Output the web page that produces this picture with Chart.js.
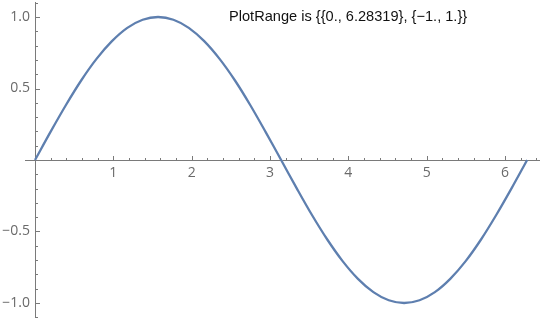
<!DOCTYPE html>
<html>
<head>
<meta charset="utf-8">
<script src="https://cdn.jsdelivr.net/npm/chart.js@4/dist/chart.umd.min.js"></script>
<style>
  html, body { margin: 0; padding: 0; background: #fff; }
  #c { display: block; }
</style>
</head>
<body>
<canvas id="c" width="540" height="320"></canvas>
<script>
// Curve samples
const xValues = [0, 0.196, 0.393, 0.589, 0.785, 0.982, 1.178, 1.374, 1.571, 1.767, 1.963, 2.160, 2.356, 2.553, 2.749, 2.945,
                 3.142, 3.338, 3.534, 3.731, 3.927, 4.123, 4.320, 4.516, 4.712, 4.909, 5.105, 5.301, 5.498, 5.694, 5.890, 6.087, 6.283];
const yValues = [0, 0.195, 0.383, 0.556, 0.707, 0.831, 0.924, 0.981, 1.0, 0.981, 0.924, 0.831, 0.707, 0.556, 0.383, 0.195,
                 0, -0.195, -0.383, -0.556, -0.707, -0.831, -0.924, -0.981, -1.0, -0.981, -0.924, -0.831, -0.707, -0.556, -0.383, -0.195, 0];

// Axis ticks
const xMajorTicks = [1, 2, 3, 4, 5, 6];
const xMajorLabels = ['1', '2', '3', '4', '5', '6'];
const xMinorTicks = [0.2, 0.4, 0.6, 0.8, 1.2, 1.4, 1.6, 1.8, 2.2, 2.4, 2.6, 2.8, 3.2, 3.4, 3.6, 3.8,
                     4.2, 4.4, 4.6, 4.8, 5.2, 5.4, 5.6, 5.8, 6.2, 6.4];
const yMajorTicks = [-1, -0.5, 0.5, 1];
const yMajorLabels = ['\u22121.0', '\u22120.5', '0.5', '1.0'];
const yMinorTicks = [-1.1, -0.9, -0.8, -0.7, -0.6, -0.4, -0.3, -0.2, -0.1, 0.1, 0.2, 0.3, 0.4, 0.6, 0.7, 0.8, 0.9, 1.1];

const titleText = 'PlotRange is {{0., 6.28319}, {\u22121., 1.}}';

const points = xValues.map((x, i) => ({ x: x, y: yValues[i] }));

const axesPlugin = {
  id: 'mmaAxes',
  beforeDatasetsDraw(chart) {
    const ctx = chart.ctx;
    const xs = chart.scales.x, ys = chart.scales.y;
    const area = chart.chartArea;
    const x0 = xs.getPixelForValue(0), y0 = ys.getPixelForValue(0);
    ctx.save();
    ctx.strokeStyle = '#7a7a7a';
    ctx.lineWidth = 1;
    // axis lines
    ctx.beginPath();
    ctx.moveTo(area.left, Math.round(y0) + 0.5);
    ctx.lineTo(area.right, Math.round(y0) + 0.5);
    ctx.moveTo(Math.round(x0) + 0.5, area.top);
    ctx.lineTo(Math.round(x0) + 0.5, area.bottom);
    // x ticks (pointing up)
    const yy = Math.round(y0) + 0.5;
    xMajorTicks.forEach(v => { const p = Math.round(xs.getPixelForValue(v)) + 0.5; ctx.moveTo(p, yy); ctx.lineTo(p, yy - 4.5); });
    xMinorTicks.forEach(v => { const p = Math.round(xs.getPixelForValue(v)) + 0.5; ctx.moveTo(p, yy); ctx.lineTo(p, yy - 2.5); });
    // y ticks (pointing right)
    const xx = Math.round(x0) + 0.5;
    yMajorTicks.forEach(v => { const p = Math.round(ys.getPixelForValue(v)) + 0.5; ctx.moveTo(xx, p); ctx.lineTo(xx + 4.5, p); });
    yMinorTicks.forEach(v => { const p = Math.round(ys.getPixelForValue(v)) + 0.5; ctx.moveTo(xx, p); ctx.lineTo(xx + 2.5, p); });
    ctx.stroke();

    // labels
    ctx.fillStyle = '#6a6a6a';
    ctx.font = '14px "Open Sans", "Liberation Sans", sans-serif';
    ctx.textAlign = 'center';
    ctx.textBaseline = 'middle';
    xMajorTicks.forEach((v, i) => ctx.fillText(xMajorLabels[i], xs.getPixelForValue(v), y0 + 13));
    ctx.textAlign = 'right';
    yMajorTicks.forEach((v, i) => ctx.fillText(yMajorLabels[i], x0 - 5, ys.getPixelForValue(v)));

    // annotation text
    ctx.fillStyle = '#111111';
    ctx.font = '14.6px "Liberation Sans", Arial, sans-serif';
    ctx.textAlign = 'left';
    ctx.fillText(titleText, 229, 16.5);
    ctx.restore();
  }
};

new Chart(document.getElementById('c'), {
  type: 'line',
  data: {
    datasets: [{
      data: points,
      borderColor: '#5E7FAF',
      borderWidth: 2.3,
      pointRadius: 0,
      tension: 0.35,
      fill: false
    }]
  },
  options: {
    responsive: false,
    animation: false,
    layout: { padding: { left: 25, right: 0, top: 2, bottom: 2 } },
    plugins: { legend: { display: false }, tooltip: { enabled: false }, title: { display: false } },
    scales: {
      x: { type: 'linear', min: -0.128, max: 6.447, display: false },
      y: { type: 'linear', min: -1.105, max: 1.105, display: false }
    }
  },
  plugins: [axesPlugin]
});
</script>
</body>
</html>
